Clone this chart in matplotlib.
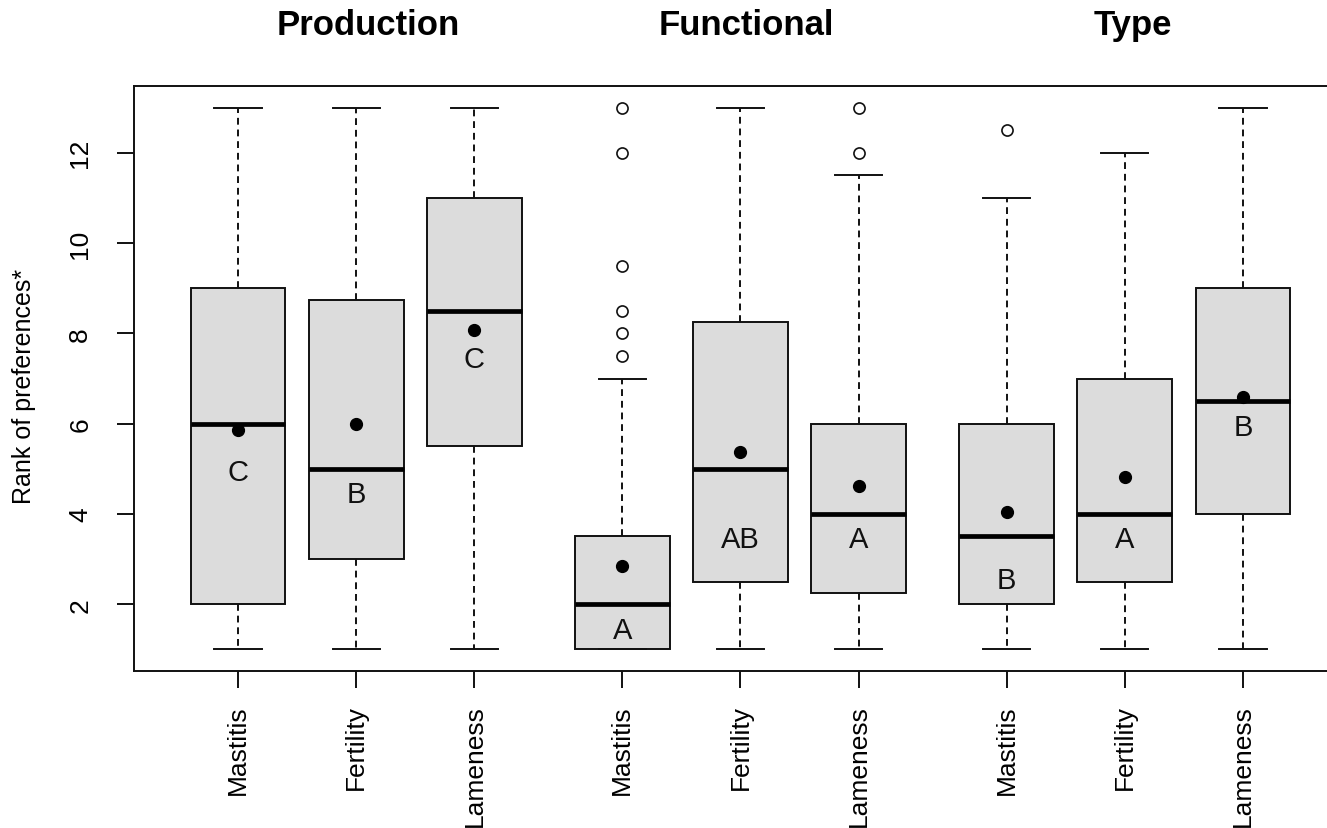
import matplotlib
matplotlib.use('Agg')
import matplotlib.pyplot as plt
from matplotlib.transforms import blended_transform_factory

# ---- data ----
groups = ["Production", "Functional", "Type"]
traits = ["Mastitis", "Fertility", "Lameness"] * 3
positions = [1, 2, 3, 4.25, 5.25, 6.25, 7.5, 8.5, 9.5]
whislo = [1, 1, 1, 1, 1, 1, 1, 1, 1]
q1 = [2, 3, 5.5, 1, 2.5, 2.25, 2, 2.5, 4]
med = [6, 5, 8.5, 2, 5, 4, 3.5, 4, 6.5]
q3 = [9, 8.75, 11, 3.5, 8.25, 6, 6, 7, 9]
whishi = [13, 13, 13, 7, 13, 11.5, 11, 12, 13]
fliers = [[], [], [], [7.5, 8, 8.5, 9.5, 12, 13], [], [12, 13], [12.5], [], []]
means = [5.86, 6.0, 8.08, 2.84, 5.37, 4.62, 4.04, 4.82, 6.59]
letters = ["C", "B", "C", "A", "AB", "A", "B", "A", "B"]
letter_y = [5.0, 4.5, 7.5, 1.5, 3.5, 3.5, 2.6, 3.5, 6.0]
title_x = [2.1, 5.3, 8.57]
yticks = [2, 4, 6, 8, 10, 12]

plt.rcParams['font.family'] = ['Liberation Sans', 'DejaVu Sans']

W, H = 1327, 829
fig = plt.figure(figsize=(W / 100, H / 100), dpi=100)
left_px, right_px, top_px, bot_px = 134, 1347, 87, 672
ax = fig.add_axes([left_px / W, 1 - bot_px / H, (right_px - left_px) / W, (bot_px - top_px) / H])

stats = []
for i in range(len(positions)):
    stats.append(dict(med=med[i], q1=q1[i], q3=q3[i], whislo=whislo[i],
                      whishi=whishi[i], fliers=fliers[i], mean=means[i]))

lw = 1.4
ax.bxp(stats, positions=positions, widths=0.8, capwidths=0.4, patch_artist=True,
       showmeans=True,
       boxprops=dict(facecolor='#DCDCDC', edgecolor='#111111', linewidth=lw),
       medianprops=dict(color='black', linewidth=3.4, solid_capstyle='butt'),
       whiskerprops=dict(color='#111111', linewidth=lw, linestyle=(0, (3.5, 2.5))),
       capprops=dict(color='#111111', linewidth=lw),
       flierprops=dict(marker='o', markerfacecolor='white', markeredgecolor='#111111',
                       markersize=8, markeredgewidth=1.2),
       meanprops=dict(marker='o', markerfacecolor='black', markeredgecolor='black',
                      markersize=8.5))

for x, t, y in zip(positions, letters, letter_y):
    ax.text(x, y, t, ha='center', va='center_baseline', fontsize=21, color='#111111', zorder=10)

ax.set_xlim(0.12, 10.38)
ax.set_ylim(0.52, 13.48)
ax.set_xticks(positions)
ax.set_xticklabels(traits, rotation=90, fontsize=19)
ax.set_yticks(yticks)
ax.set_yticklabels([str(v) for v in yticks], rotation=90, va='center', fontsize=19)
ax.tick_params(axis='both', length=12, width=lw, color='#111111')
ax.tick_params(axis='x', pad=12)
ax.tick_params(axis='y', pad=18)
for s in ax.spines.values():
    s.set_linewidth(lw)
    s.set_color('#111111')

fig.text(24 / W, 1 - 386 / H, "Rank of preferences*", rotation=90, ha='center', va='center', fontsize=18)

tr = blended_transform_factory(ax.transData, fig.transFigure)
for x, g in zip(title_x, groups):
    ax.text(x, 1 - 35 / H, g, transform=tr, ha='center', va='baseline',
            fontsize=25, fontweight='bold', clip_on=False)

fig.savefig('out.png', dpi=100)
